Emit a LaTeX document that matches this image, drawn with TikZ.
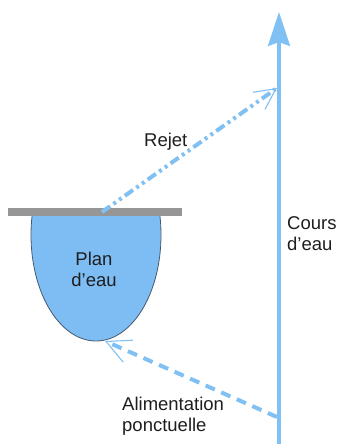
\documentclass[tikz,border=0pt]{standalone}
\usepackage{fontspec}
\setmainfont{Liberation Sans}
\usetikzlibrary{arrows.meta}

\definecolor{eau}{RGB}{128,192,242}
\definecolor{bassin}{RGB}{126,189,244}
\definecolor{bord}{RGB}{70,90,110}
\definecolor{digue}{RGB}{150,150,150}
\definecolor{texte}{RGB}{30,30,30}

\begin{document}
\begin{tikzpicture}[x=1pt,y=-1pt,line cap=butt,line join=round,
    flow/.style={color=eau,line width=4pt},
    barb/.style={-{Straight Barb[line width=1.1pt,length=#1,width=#1]}},
    lbl/.style={font=\fontsize{18.5}{21}\selectfont,text=texte,inner sep=0pt}]
      \useasboundingbox (0,0) rectangle (342,444);

      % Add Points
      \coordinate (outlet) at (102,212);
      \coordinate (rejetend) at (277,88);
      \coordinate (source) at (277,417);
      \coordinate (pondtip) at (105,341);
      \coordinate (rivlow) at (279,444);
      \coordinate (rivtop) at (279,12);

      % Plan d'eau
      \begin{scope}
      \clip (0,216) rectangle (342,444);
      \draw[fill=bassin,draw=bord,line width=0.8pt] (96,235) ellipse [x radius=65, y radius=106];
      \end{scope}
      \fill[digue] (8,208) rectangle (182,216);

      % Cours d'eau
      \draw[color=eau,line width=3.5pt,-{Stealth[length=34pt,width=22pt,inset=4pt]}] (rivlow) -- (rivtop);

      % Flows
      \draw[flow,barb=21pt,dash pattern=on 10pt off 4pt on 3pt off 4pt on 3pt off 4pt] (outlet) -- (rejetend);
      \draw[flow,barb=24pt,dash pattern=on 10pt off 7pt] (source) -- (pondtip);

      % Add Labels
      \node[lbl,anchor=north west] (rejet) at (144,133) {Rejet};
      \node[lbl,anchor=north west,align=left] (cours) at (287,216) {Cours\\d’eau};
      \node[lbl,anchor=north,align=center] (plan) at (94,252) {Plan\\d’eau};
      \node[lbl,anchor=north west,align=left] (alim) at (122,397) {Alimentation\\ponctuelle};
    \end{tikzpicture}
\end{document}
